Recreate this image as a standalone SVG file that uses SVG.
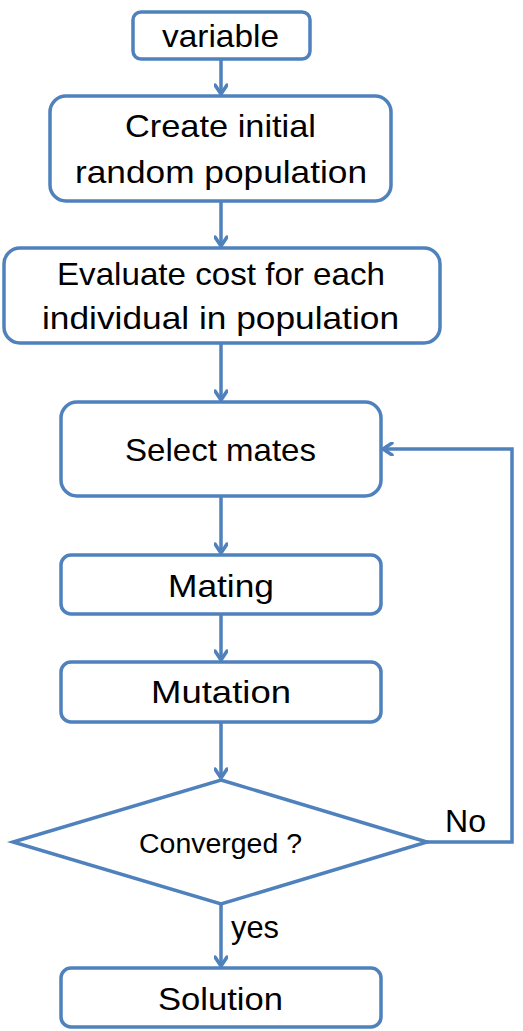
<svg xmlns="http://www.w3.org/2000/svg" width="523" height="1031" viewBox="0 0 523 1031">
<style>
.box{fill:#fff;stroke:#4f81bd;stroke-width:3.5}
.t{font-family:"Liberation Sans",Arial,sans-serif;font-size:32px;fill:#000;text-anchor:start}
.c{fill:none;stroke:#4f81bd;stroke-width:3.5}
</style>
<defs>
<marker id="ah" markerWidth="14" markerHeight="14" refX="11" refY="7" orient="auto" markerUnits="userSpaceOnUse">
<polyline points="2,1 11,7 2,13" fill="none" stroke="#4f81bd" stroke-width="3.5" stroke-linecap="round" stroke-linejoin="round"/>
</marker>
</defs>
<rect width="523" height="1031" fill="#fff"/>
<g id="connectors">
<line class="c" x1="221" y1="59" x2="221" y2="94" marker-end="url(#ah)"/>
<line class="c" x1="221" y1="201" x2="221" y2="246" marker-end="url(#ah)"/>
<line class="c" x1="221" y1="343" x2="221" y2="400" marker-end="url(#ah)"/>
<line class="c" x1="221" y1="496" x2="221" y2="553" marker-end="url(#ah)"/>
<line class="c" x1="221" y1="614" x2="221" y2="660" marker-end="url(#ah)"/>
<line class="c" x1="221" y1="722" x2="221" y2="778" marker-end="url(#ah)"/>
<line class="c" x1="221" y1="904" x2="221" y2="966" marker-end="url(#ah)"/>
<polyline class="c" points="427,842 512,842 512,449 383,449" marker-end="url(#ah)"/>
<text class="t" x="445" y="832" textLength="41" lengthAdjust="spacingAndGlyphs">No</text>
<text class="t" x="231" y="938" textLength="48" lengthAdjust="spacingAndGlyphs">yes</text>
</g>
<g id="n-variable">
<rect class="box" x="133" y="12" width="177" height="47" rx="8"/>
<text class="t" x="162" y="47" textLength="117" lengthAdjust="spacingAndGlyphs">variable</text>
</g>
<g id="n-create">
<rect class="box" x="50" y="96" width="341" height="105" rx="16"/>
<text class="t" x="125" y="137" textLength="191" lengthAdjust="spacingAndGlyphs">Create initial</text>
<text class="t" x="75" y="183" textLength="292" lengthAdjust="spacingAndGlyphs">random population</text>
</g>
<g id="n-evaluate">
<rect class="box" x="4" y="248" width="436" height="95" rx="16"/>
<text class="t" x="57" y="285" textLength="328" lengthAdjust="spacingAndGlyphs">Evaluate cost for each</text>
<text class="t" x="42" y="329" textLength="357" lengthAdjust="spacingAndGlyphs">individual in population</text>
</g>
<g id="n-select">
<rect class="box" x="61" y="402" width="320" height="94" rx="16"/>
<text class="t" x="125" y="461" textLength="191" lengthAdjust="spacingAndGlyphs">Select mates</text>
</g>
<g id="n-mating">
<rect class="box" x="61" y="555" width="320" height="59" rx="10"/>
<text class="t" x="168" y="597" textLength="106" lengthAdjust="spacingAndGlyphs">Mating</text>
</g>
<g id="n-mutation">
<rect class="box" x="61" y="662" width="320" height="60" rx="10"/>
<text class="t" x="151" y="703" textLength="140" lengthAdjust="spacingAndGlyphs">Mutation</text>
</g>
<g id="n-converged">
<polygon class="box" points="221,780 427,842 221,904 13,842"/>
<text class="t" x="139" y="853" style="font-size:27px" textLength="163" lengthAdjust="spacingAndGlyphs">Converged ?</text>
</g>
<g id="n-solution">
<rect class="box" x="61" y="968" width="320" height="59" rx="10"/>
<text class="t" x="158" y="1010" textLength="125" lengthAdjust="spacingAndGlyphs">Solution</text>
</g>
</svg>
